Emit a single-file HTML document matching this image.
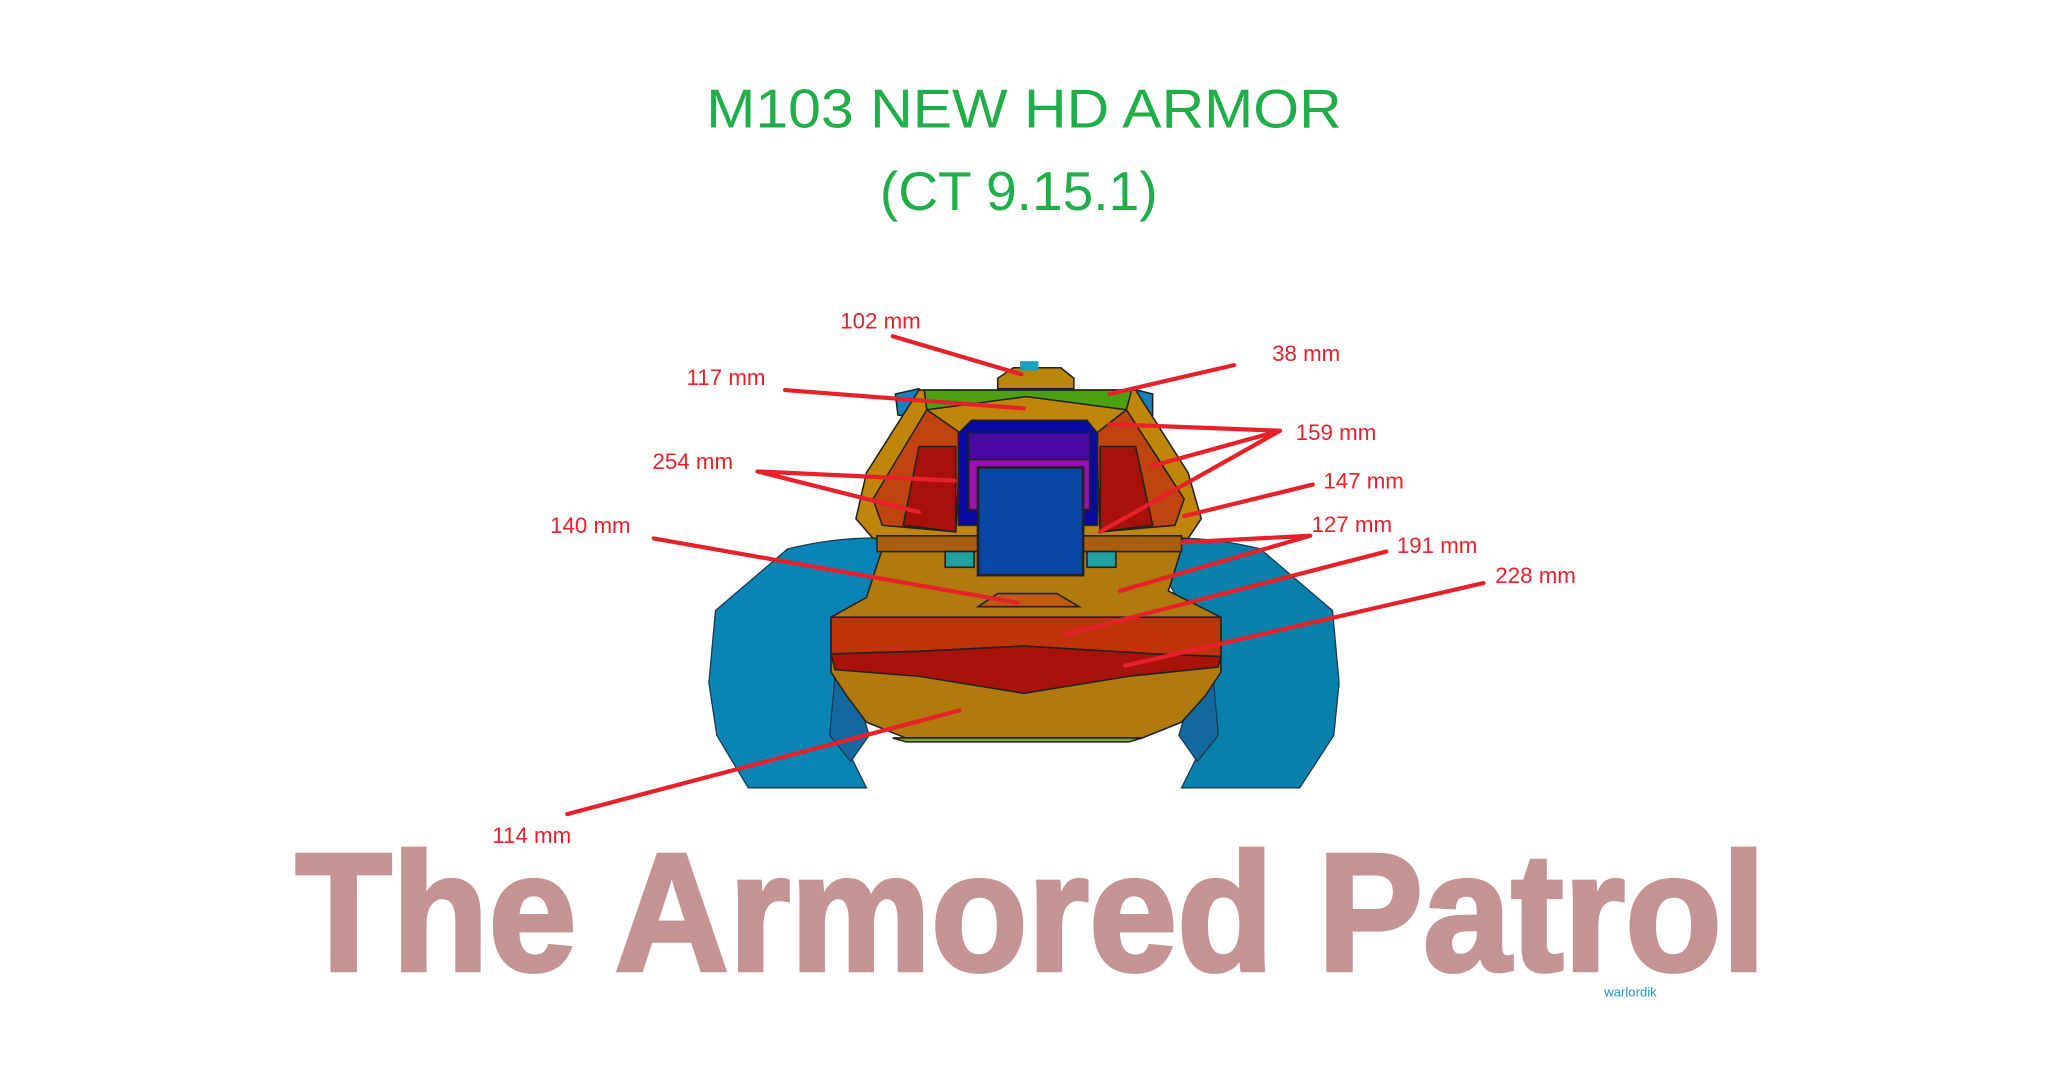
<!DOCTYPE html>
<html><head><meta charset="utf-8"><style>
html,body{margin:0;padding:0;background:#fff;width:2048px;height:1065px;overflow:hidden}
svg{display:block}
</style></head><body>
<svg width="2048" height="1065" viewBox="0 0 1560 811" xmlns="http://www.w3.org/2000/svg">
<rect width="1560" height="811" fill="#fff"/>
<text x="780" y="97" text-anchor="middle" font-family="Liberation Sans, sans-serif" font-size="42" fill="#1fae48" textLength="484" lengthAdjust="spacingAndGlyphs">M103 NEW HD ARMOR</text>
<text x="776" y="160" text-anchor="middle" font-family="Liberation Sans, sans-serif" font-size="42" fill="#1fae48">(CT 9.15.1)</text>

<g stroke="#1a3a50" stroke-width="1">
<path d="M600,418 Q640,408 680,410 L672,440 L660,470 L640,520 L640,560 L660,600 L570,600 L546,560 L540,520 L545,465 Z" fill="#0a84b4"/>
<path d="M960,418 Q920,408 880,410 L888,440 L905,470 L920,520 L920,560 L900,600 L990,600 L1016,560 L1020,520 L1015,465 Z" fill="#0880ac"/>
<path d="M636,515 L648,512 L662,560 L648,580 L632,560 Z" fill="#1468a0"/>
<path d="M924,515 L912,512 L898,560 L912,580 L928,560 Z" fill="#1468a0"/>
</g>
<g stroke="#222" stroke-width="1.2">
<path d="M672,418 L900,418 L890,450 L930,470 L930,512 L918,530 L900,550 L870,562 L690,562 L660,550 L645,530 L633,512 L633,470 L660,455 Z" fill="#b07a0c"/>
<path d="M633,470 L930,470 L930,500 L880,498 L780,492 L700,496 L633,498 Z" fill="#c0330a"/>
<path d="M633,498 L700,496 L780,492 L880,498 L930,500 L928,508 L860,515 L780,528 L700,515 L636,510 Z" fill="#a8120a"/>
<path d="M745,462 L760,452 L805,452 L822,462 Z" fill="#c05a10"/>
<path d="M680,562 L870,562 L860,565 L690,565 Z" fill="#8ab010"/>
</g>
<g stroke="#222" stroke-width="1.2">
<path d="M760,288 L772,280 L808,280 L818,288 L818,296 L760,296 Z" fill="#b8860a"/>
<rect x="777" y="275" width="14" height="7" fill="#18a0c0" stroke="none"/>
<path d="M682,300 L700,296 L710,306 L700,318 L684,316 Z" fill="#1a80c0"/>
<path d="M878,300 L862,296 L852,306 L862,318 L878,316 Z" fill="#1a80c0"/>
<path d="M700,297 L865,297 L905,360 L915,395 L905,410 L665,410 L652,395 L660,360 Z" fill="#c0860a"/>
<path d="M704,297 L862,297 L858,312 L782,302 L706,312 Z" fill="#4aa010"/>
<path d="M706,312 L732,330 L728,405 L672,400 L665,380 Z" fill="#c04410"/>
<path d="M858,312 L835,330 L838,405 L895,400 L902,380 Z" fill="#c04410"/>
<path d="M700,340 L728,340 L728,405 L688,400 Z" fill="#a8100a"/>
<path d="M865,340 L838,340 L838,405 L878,400 Z" fill="#a8100a"/>
<path d="M740,320 L828,320 L836,330 L836,400 L730,400 L730,330 Z" fill="#0a0aa0"/>
<path d="M738,330 L830,330 L830,350 L738,350 Z" fill="#4a08a8"/>
<path d="M738,350 L830,350 L830,388 L738,388 Z" fill="#a010b0"/>
<path d="M668,408 L900,408 L900,420 L668,420 Z" fill="#a86010"/>
<rect x="720" y="420" width="22" height="12" fill="#20a0a0"/>
<rect x="828" y="420" width="22" height="12" fill="#20a0a0"/>
<rect x="745" y="356" width="80" height="82" fill="#0a48a8" stroke-width="2"/>
</g>

<g stroke="#e8202a" stroke-width="3.2" stroke-linecap="round" fill="none">
<path d="M680,256 L778,285"/>
<path d="M940,278 L845,300"/>
<path d="M598,297 L780,311"/>
<path d="M975,328 L845,323 M975,328 L877,355 M975,328 L838,405"/>
<path d="M577,359 L727,366 M577,359 L700,390"/>
<path d="M1000,369 L902,393"/>
<path d="M498,410 L775,459"/>
<path d="M998,408 L900,413 M998,408 L853,450"/>
<path d="M1056,420 L812,483"/>
<path d="M1130,444 L857,507"/>
<path d="M432,620 L731,541"/>
</g>
<g font-family="Liberation Sans, sans-serif" font-size="17" fill="#e8202a">
<text x="640" y="250">102 mm</text>
<text x="969" y="275">38 mm</text>
<text x="523" y="293">117 mm</text>
<text x="987" y="335">159 mm</text>
<text x="497" y="357">254 mm</text>
<text x="1008" y="372">147 mm</text>
<text x="419" y="406">140 mm</text>
<text x="999" y="405">127 mm</text>
<text x="1064" y="421">191 mm</text>
<text x="1139" y="444">228 mm</text>
<text x="375" y="642">114 mm</text>
</g>

<text x="225" y="739" textLength="1120" lengthAdjust="spacingAndGlyphs" font-family="Liberation Sans Narrow, Liberation Sans, sans-serif" font-weight="bold" font-size="128" fill="#c49494" stroke="#c49494" stroke-width="3">The Armored Patrol</text>
<text x="1222" y="759" font-family="Liberation Sans, sans-serif" font-size="10" fill="#2090e0">warlordik</text>
</svg>
</body></html>
